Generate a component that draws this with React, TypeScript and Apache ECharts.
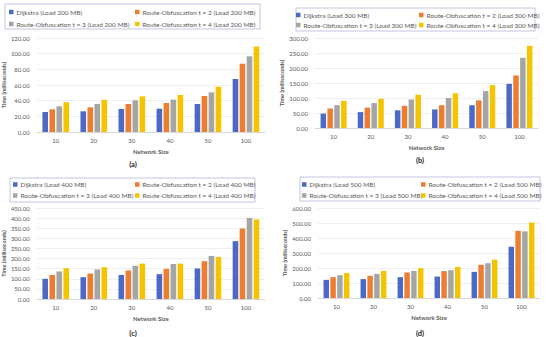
import React, { useEffect, useRef } from "react";
import * as echarts from "echarts";

const categories = ["10", "20", "30", "40", "50", "100"];
const loads = ["200", "300", "400", "500"];
const panelLabels = ["(a)", "(b)", "(c)", "(d)"];

// Panel (a) Load 200 MB
const a_dijkstra = [25.5, 26.4, 29.4, 29.8, 35.7, 67.7];
const a_t2 = [29.0, 31.5, 35.7, 37.0, 46.0, 87.2];
const a_t3 = [32.8, 35.7, 40.4, 41.3, 50.6, 96.6];
const a_t4 = [38.0, 41.0, 45.5, 47.2, 57.9, 109.0];
// Panel (b) Load 300 MB
const b_dijkstra = [48, 53, 59, 62, 76, 147];
const b_t2 = [65, 68, 74, 76, 92, 175];
const b_t3 = [76, 83, 95, 100, 123, 234];
const b_t4 = [91, 97, 111, 116, 143, 274];
// Panel (c) Load 400 MB
const c_dijkstra = [100, 108, 119, 123, 151, 286];
const c_t2 = [119, 126, 141, 149, 187, 349];
const c_t3 = [136, 146, 164, 173, 213, 401];
const c_t4 = [152, 157, 175, 175, 208, 393];
// Panel (d) Load 500 MB
const d_dijkstra = [121, 126, 139, 143, 174, 342];
const d_t2 = [139, 148, 170, 179, 221, 448];
const d_t3 = [152, 161, 181, 185, 232, 444];
const d_t4 = [166, 181, 199, 207, 256, 503];

const yMax = [120, 300, 450, 600];
const yInterval = [20, 50, 50, 100];

const panelData = [
  [a_dijkstra, a_t2, a_t3, a_t4],
  [b_dijkstra, b_t2, b_t3, b_t4],
  [c_dijkstra, c_t2, c_t3, c_t4],
  [d_dijkstra, d_t2, d_t3, d_t4],
];

const seriesBaseNames = [
  "Dijkstra",
  "Route-Obfuscation t = 2",
  "Route-Obfuscation t = 3",
  "Route-Obfuscation t = 4",
];
const colors = ["#4a6ac6", "#ED7D31", "#A5A5A5", "#F5C400"];

const FONT = "Lato";

const grids = [
  { left: 33, top: 38, width: 232, height: 94 },
  { left: 315, top: 38, width: 223, height: 90 },
  { left: 30, top: 208, width: 235, height: 91 },
  { left: 318, top: 208, width: 222, height: 90 },
];

const legendBoxes = [
  { x: 5, y: 4, w: 255, h: 25, col1: 9, col2: 135, top: 8, gap: 4 },
  { x: 296, y: 8, w: 239, h: 23, col1: 296, col2: 419, top: 11, gap: 2 },
  { x: 10, y: 178, w: 245, h: 24, col1: 13, col2: 135, top: 180.5, gap: 3 },
  { x: 300, y: 177, w: 240, h: 24, col1: 302, col2: 421, top: 180.5, gap: 3 },
];

const labelPos = [
  { x: 133, y: 164 },
  { x: 420, y: 160 },
  { x: 133, y: 333 },
  { x: 420, y: 333 },
];

function nameOf(s: number, p: number) {
  return `${seriesBaseNames[s]} (Load ${loads[p]} MB)`;
}

export default function App() {
  const ref = useRef<HTMLDivElement>(null);
  useEffect(() => {
    if (!ref.current) return;
    const chart = echarts.init(ref.current, undefined, { renderer: "svg" });

    const series: any[] = [];
    const legends: any[] = [];
    const graphics: any[] = [];
    panelData.forEach((arrs, p) => {
      arrs.forEach((vals, s) => {
        series.push({
          type: "bar",
          name: nameOf(s, p),
          xAxisIndex: p,
          yAxisIndex: p,
          data: vals,
          itemStyle: { color: colors[s] },
          barGap: "25%",
          barCategoryGap: "30%",
        });
      });
      const lb = legendBoxes[p];
      const legendCommon = {
        orient: "vertical",
        top: lb.top,
        padding: 0,
        itemGap: lb.gap,
        itemWidth: 4.5,
        itemHeight: 4.5,
        icon: "rect",
        selectedMode: false,
        textStyle: { fontSize: 6.5, color: "#595959", fontFamily: FONT, lineHeight: 8, padding: [0, 0, 0, -2] },
      };
      legends.push({ ...legendCommon, left: lb.col1, data: [nameOf(0, p), nameOf(2, p)] });
      legends.push({ ...legendCommon, left: lb.col2, data: [nameOf(1, p), nameOf(3, p)] });
      graphics.push({
        type: "rect",
        shape: { x: lb.x, y: lb.y, width: lb.w, height: lb.h },
        style: { fill: "none", stroke: "#b4b8d8", lineWidth: 0.8 },
        silent: true,
      });
      graphics.push({
        type: "text",
        x: labelPos[p].x,
        y: labelPos[p].y,
        style: {
          text: panelLabels[p],
          fontSize: 7.5,
          fontWeight: "bold",
          fontFamily: FONT,
          fill: "#222",
          align: "center",
          verticalAlign: "middle",
        },
      });
    });

    chart.setOption({
      animation: false,
      backgroundColor: "#fff",
      grid: grids.map((g) => ({ ...g, containLabel: false })),
      legend: legends,
      graphic: graphics,
      xAxis: grids.map((_, p) => ({
        type: "category",
        gridIndex: p,
        data: categories,
        name: "Network Size",
        nameLocation: "middle",
        nameGap: 16,
        nameTextStyle: { fontSize: 6, fontWeight: "bold", color: "#595959", fontFamily: FONT },
        axisTick: { show: false },
        axisLine: { lineStyle: { color: "#d0d0d0", width: 0.8 } },
        axisLabel: { fontSize: 6, color: "#595959", fontFamily: FONT, margin: 5 },
      })),
      yAxis: grids.map((_, p) => ({
        type: "value",
        gridIndex: p,
        min: 0,
        max: yMax[p],
        interval: yInterval[p],
        name: "Time (milliseconds)",
        nameLocation: "middle",
        nameGap: p === 0 ? 25 : 27,
        nameTextStyle: { fontSize: 5.5, fontWeight: "bold", color: "#595959", fontFamily: FONT },
        axisLine: { show: false },
        axisTick: { show: false },
        splitLine: { lineStyle: { color: "#e4e4e4", width: 0.6 } },
        axisLabel: {
          fontSize: 6,
          color: "#595959",
          fontFamily: FONT,
          margin: 7,
          formatter: (v: number) => v.toFixed(2),
        },
      })),
      series,
    });
    return () => chart.dispose();
  }, []);
  return <div ref={ref} style={{ width: 550, height: 337, position: "absolute", left: 0, top: 0 }} />;
}
